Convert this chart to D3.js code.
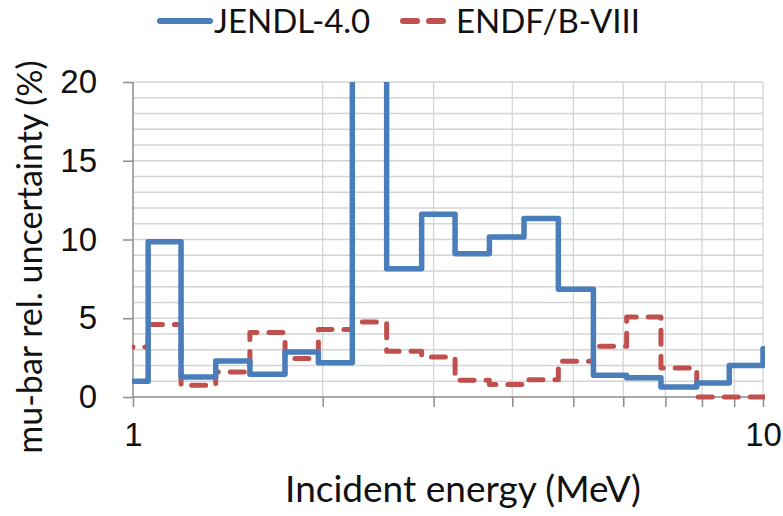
<!DOCTYPE html>
<html>
<head>
<meta charset="utf-8">
<style>
    body { margin: 0; background: #fff; }
    svg { display: block; font-family: Lato, 'Open Sans', sans-serif; }
    .grid line { stroke: #d4d4d4; stroke-width: 1.3; }
    .axis .domain { stroke: #8c8c8c; stroke-width: 1.5; }
    .axis .tick line { stroke: #8c8c8c; stroke-width: 1.5; }
    .axis .tick text { font-size: 33px; fill: #111; }
    .title { fill: #111; }
    .legend-text { font-size: 33px; fill: #111; }
</style>
</head>
<body>
<svg width="783" height="516"></svg>
<script src="https://d3js.org/d3.v7.min.js"></script>
<script>
    // bin edges (MeV), first / last edges fall outside the plotted range
    let edges = [0.95, 1.057, 1.192, 1.353, 1.533, 1.743, 1.969, 2.229, 2.527, 2.872,
                 3.245, 3.679, 4.175, 4.733, 5.38, 6.075, 6.887, 7.85, 8.84, 10.0, 11.0]
    // mu-bar relative uncertainty (%) per bin
    let jendl = [1.0, 9.85, 1.27, 2.29, 1.44, 2.86, 2.18, 30.0, 8.15, 11.6,
                 9.1, 10.16, 11.33, 6.84, 1.38, 1.23, 0.63, 0.89, 2.0, 3.07]
    let endf = [3.17, 4.6, 0.74, 1.59, 4.09, 2.44, 4.28, 4.76, 2.9, 2.54,
                1.06, 0.79, 1.1, 2.27, 3.22, 5.08, 1.84, 0.0, 0.0, 0.0]

    let xTicks = [1, 2, 3, 4, 5, 6, 7, 8, 9, 10]
    let xLabels = [1, 10]
    let yTicks = [0, 5, 10, 15, 20]

    let margin = { top: 82, right: 20, bottom: 119, left: 133 }
    let width = 783, height = 516

    let svg = d3.select("svg")

    let x = d3.scaleLog()
        .domain([1, 10])
        .range([margin.left, width - margin.right])

    let y = d3.scaleLinear()
        .domain([0, 20])
        .range([height - margin.bottom, margin.top])

    // gridlines
    let grid = svg.append("g").attr("class", "grid")
    grid.selectAll(".h")
        .data(d3.range(1, 21))
        .join("line")
        .attr("x1", x(1)).attr("x2", x(10))
        .attr("y1", d => y(d)).attr("y2", d => y(d))
    grid.selectAll(".v")
        .data(xTicks.slice(1))
        .join("line")
        .attr("x1", d => x(d)).attr("x2", d => x(d))
        .attr("y1", y(0)).attr("y2", y(20))

    // axes
    svg.append("g")
        .attr("class", "axis")
        .attr("transform", `translate(0,${y(0)})`)
        .call(d3.axisBottom(x).tickValues(xTicks).tickSize(10).tickPadding(16)
            .tickFormat(d => xLabels.includes(d) ? d : ""))
        .call(g => g.select(".domain").attr("d", `M${x(1)},0H${x(10)}`))

    svg.append("g")
        .attr("class", "axis")
        .attr("transform", `translate(${x(1)},0)`)
        .call(d3.axisLeft(y).tickValues(yTicks).tickSize(10).tickPadding(26))
        .call(g => g.select(".domain").attr("d", `M0,${y(0)}V${y(20)}`))

    // step lines
    svg.append("clipPath").attr("id", "clip")
        .append("rect")
        .attr("x", x(1) - 1).attr("y", y(20))
        .attr("width", x(10) - x(1) + 3).attr("height", y(0) - y(20) + 20)

    let stepLine = d3.line()
        .x(d => x(d[0]))
        .y(d => y(d[1]))
        .curve(d3.curveStepAfter)

    function steps(vals) {
        let pts = vals.map((v, i) => [edges[i], v])
        pts.push([edges[vals.length], vals[vals.length - 1]])
        return pts
    }

    let lines = svg.append("g").attr("clip-path", "url(#clip)")

    lines.append("path")
        .attr("d", stepLine(steps(endf)))
        .attr("fill", "none")
        .attr("stroke", "#c0504d")
        .attr("stroke-width", 5)
        .attr("stroke-dasharray", "14,12")
        .attr("stroke-linecap", "round")
        .attr("stroke-linejoin", "round")

    lines.append("path")
        .attr("d", stepLine(steps(jendl)))
        .attr("fill", "none")
        .attr("stroke", "#4a7ebb")
        .attr("stroke-width", 5.5)
        .attr("stroke-linejoin", "round")

    // titles
    svg.append("text")
        .attr("class", "title")
        .attr("x", 463)
        .attr("y", 502)
        .attr("text-anchor", "middle")
        .style("font-size", "37px")
        .text("Incident energy (MeV)")

    svg.append("text")
        .attr("class", "title")
        .attr("transform", "translate(42,257) rotate(-90)")
        .attr("text-anchor", "middle")
        .style("font-size", "34px")
        .text("mu-bar rel. uncertainty (%)")

    // legend
    svg.append("line")
        .attr("x1", 160).attr("x2", 210)
        .attr("y1", 21).attr("y2", 21)
        .attr("stroke", "#4a7ebb").attr("stroke-width", 6)
        .attr("stroke-linecap", "round")
    svg.append("text")
        .attr("class", "legend-text")
        .attr("x", 214).attr("y", 33)
        .text("JENDL-4.0")

    svg.append("line")
        .attr("x1", 403).attr("x2", 450)
        .attr("y1", 21).attr("y2", 21)
        .attr("stroke", "#c0504d").attr("stroke-width", 6)
        .attr("stroke-dasharray", "14,12")
        .attr("stroke-linecap", "round")
    svg.append("text")
        .attr("class", "legend-text")
        .attr("x", 456).attr("y", 33)
        .text("ENDF/B-VIII")
</script>
</body>
</html>
